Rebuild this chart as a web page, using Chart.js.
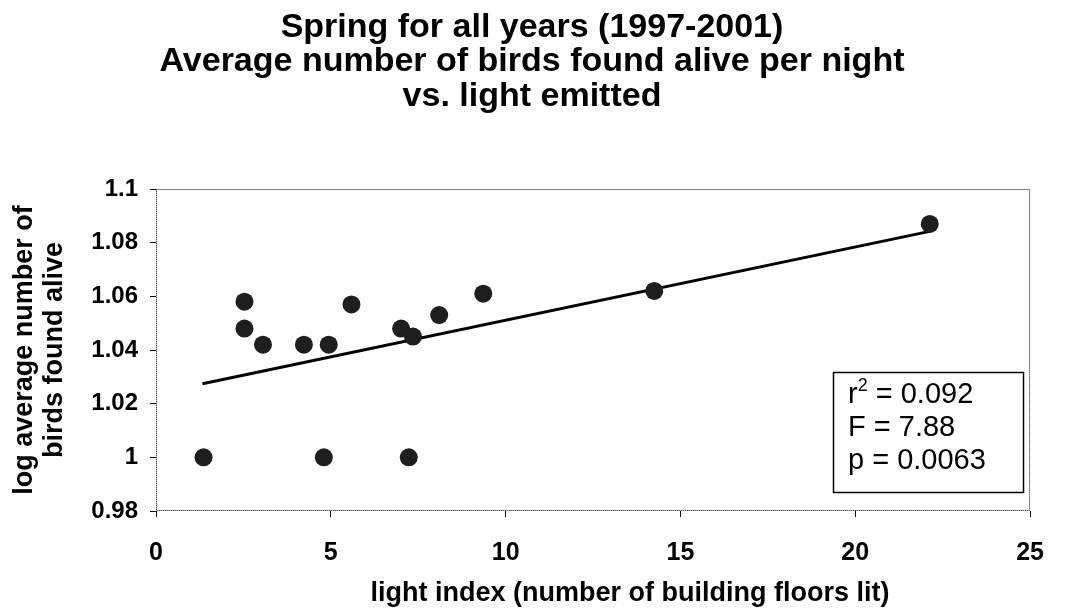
<!DOCTYPE html>
<html><head><meta charset="utf-8">
<script src="https://cdn.jsdelivr.net/npm/chart.js@4.4.0/dist/chart.umd.min.js"></script>
<style>html,body{margin:0;padding:0;background:#fff}#wrap{width:1065px;height:613px;position:relative}</style>
</head><body><div id="wrap"><canvas id="c" width="1065" height="613"></canvas></div>
<script>
const titleLines = ["Spring for all years (1997-2001)", "Average number of birds found alive per night", "vs. light emitted"];
const xTitle = "light index (number of building floors lit)";
const yTitleLines = ["log average number of", "birds found alive"];
const lightIndex    = [1.36, 2.53, 2.53, 3.06, 4.23, 4.80, 4.94, 5.59, 7.01, 7.23, 7.35, 8.10, 9.36, 14.25, 22.13];
const logBirdsAlive = [1.000, 1.058, 1.048, 1.042, 1.042, 1.000, 1.042, 1.057, 1.048, 1.000, 1.045, 1.053, 1.061, 1.062, 1.087];
const trendX = [1.33, 22.13];
const trendY = [1.0274, 1.0842];
const xTicks = [0, 5, 10, 15, 20, 25];
const yTicks = [0.98, 1, 1.02, 1.04, 1.06, 1.08, 1.1];
const statsLabels = ["r", "F", "p"];
const statsValues = ["0.092", "7.88", "0.0063"];

const FONT = "'Liberation Sans', Arial, sans-serif";

const decor = {
  id: 'decor',
  beforeDatasetsDraw(chart) {
    const {ctx, chartArea: a} = chart;
    ctx.save();
    ctx.strokeStyle = '#000';
    ctx.lineWidth = 1;
    ctx.setLineDash([1, 1]);
    ctx.strokeRect(a.left + 0.5, a.top + 0.5, a.right - a.left - 1, a.bottom - a.top - 1);
    ctx.restore();
  },
  afterDraw(chart) {
    const {ctx, chartArea: a} = chart;
    ctx.save();
    ctx.fillStyle = '#000';
    ctx.textAlign = 'center';
    ctx.textBaseline = 'middle';
    ctx.font = "bold 34px " + FONT;
    const tys = [28, 62, 97];
    titleLines.forEach((t, i) => ctx.fillText(t, 532, tys[i]));
    ctx.font = "bold 27px " + FONT;
    ctx.fillText(xTitle, 630, 594);
    ctx.save();
    ctx.rotate(-Math.PI / 2);
    const cy = (a.top + a.bottom) / 2;
    ctx.fillText(yTitleLines[0], -cy, 25);
    ctx.fillText(yTitleLines[1], -cy, 55);
    ctx.restore();
    // stats box
    ctx.setLineDash([]);
    ctx.lineWidth = 1.5;
    ctx.strokeStyle = '#000';
    ctx.fillStyle = '#fff';
    ctx.fillRect(833, 372, 191, 121);
    ctx.strokeRect(833.5, 372.5, 190, 120);
    ctx.fillStyle = '#000';
    ctx.textAlign = 'left';
    ctx.textBaseline = 'alphabetic';
    const bl = [403, 436, 469];
    statsLabels.forEach((lab, i) => {
      let x = 848;
      ctx.font = "29px " + FONT;
      ctx.fillText(lab, x, bl[i]);
      x += ctx.measureText(lab).width;
      if (i === 0) {
        ctx.font = "18px " + FONT;
        ctx.fillText("2", x, bl[i] - 12);
        x += ctx.measureText("2").width;
      }
      ctx.font = "29px " + FONT;
      ctx.fillText(" = " + statsValues[i], x, bl[i]);
    });
    ctx.restore();
  }
};

new Chart(document.getElementById('c'), {
  type: 'scatter',
  data: {
    datasets: [
      {
        label: 'birds',
        data: lightIndex.map((x, i) => ({x, y: logBirdsAlive[i]})),
        backgroundColor: '#1e1e1e',
        borderWidth: 0,
        pointRadius: 9,
        pointHoverRadius: 9,
        order: 1
      },
      {
        label: 'trend',
        data: trendX.map((x, i) => ({x, y: trendY[i]})),
        showLine: true,
        borderColor: '#000',
        borderWidth: 3,
        pointRadius: 0,
        order: 2
      }
    ]
  },
  options: {
    responsive: false,
    animation: false,
    devicePixelRatio: 1,
    layout: {padding: {top: 189, right: 19, left: 0, bottom: 0}},
    plugins: {legend: {display: false}, tooltip: {enabled: false}, title: {display: false}},
    scales: {
      x: {
        type: 'linear', min: 0, max: 25,
        afterBuildTicks: s => { s.ticks = xTicks.map(v => ({value: v})); },
        afterFit: s => { s.height = 102; },
        grid: {display: true, drawOnChartArea: false, drawTicks: true, tickLength: 6, color: '#000'},
        border: {display: false},
        ticks: {color: '#000', padding: 21, font: {family: FONT, size: 25, weight: 'bold'}, maxRotation: 0, callback: v => String(v)}
      },
      y: {
        type: 'linear', min: 0.98, max: 1.1,
        afterBuildTicks: s => { s.ticks = yTicks.map(v => ({value: v})); },
        afterFit: s => { s.width = 156; },
        grid: {display: true, drawOnChartArea: false, drawTicks: true, tickLength: 6, color: '#000'},
        border: {display: false},
        ticks: {color: '#000', padding: 12, font: {family: FONT, size: 24, weight: 'bold'}, callback: v => String(Math.round(v * 100) / 100)}
      }
    }
  },
  plugins: [decor]
});
</script>
</body></html>
